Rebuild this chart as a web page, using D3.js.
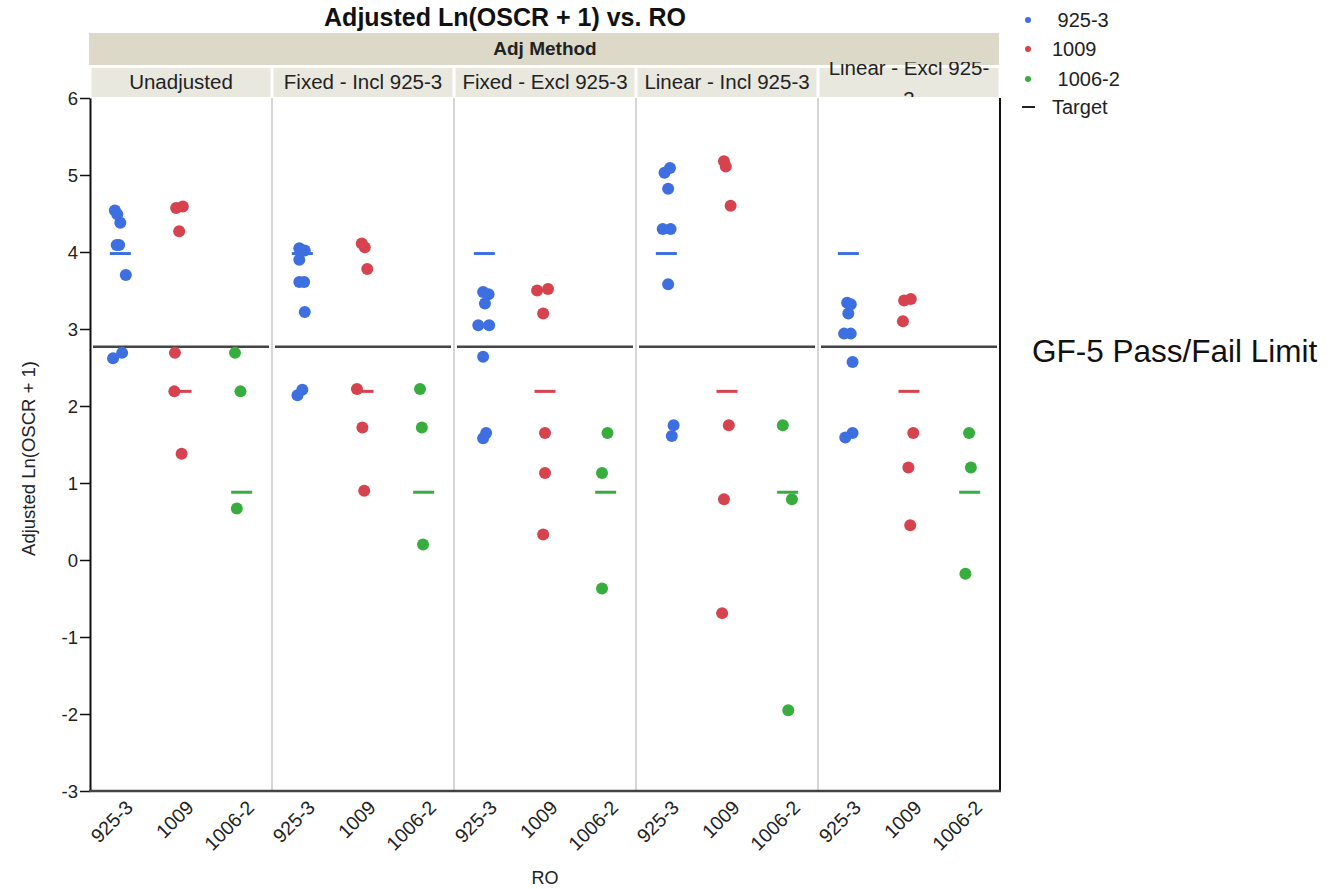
<!DOCTYPE html>
<html>
<head>
<meta charset="utf-8">
<script src="https://cdn.jsdelivr.net/npm/d3@7"></script>
<style>
  body { margin: 0; background: #fff; }
  text { font-family: "Liberation Sans", Arial, Helvetica, sans-serif; fill: #222; }
</style>
</head>
<body>
<svg id="chart" width="1338" height="889"></svg>
<script>
// Adjustment methods (facet columns) and RO categories
const methods = ["Unadjusted", "Fixed - Incl 925-3", "Fixed - Excl 925-3", "Linear - Incl 925-3", "Linear - Excl 925-3"];
const ros = ["925-3", "1009", "1006-2"];
const roColors = ["#3d6fe0", "#d6434f", "#37ad3e"];

// Target value per RO and the GF-5 pass/fail limit
const targets = [3.98, 2.19, 0.88];
const passFailLimit = 2.77;

// Adjusted Ln(OSCR + 1) per method, one array per RO
const values925_3 = [
  [4.54, 4.49, 4.38, 4.09, 4.09, 3.70, 2.69, 2.62],
  [4.05, 4.02, 3.90, 3.61, 3.61, 3.22, 2.21, 2.14],
  [3.48, 3.45, 3.33, 3.05, 3.05, 2.64, 1.65, 1.58],
  [5.09, 5.03, 4.82, 4.30, 4.30, 3.58, 1.75, 1.61],
  [3.34, 3.32, 3.20, 2.94, 2.94, 2.57, 1.65, 1.59]
];
const values1009 = [
  [4.59, 4.57, 4.27, 2.69, 2.19, 1.38],
  [4.11, 4.06, 3.78, 2.22, 1.72, 0.90],
  [3.50, 3.52, 3.20, 1.65, 1.13, 0.33],
  [5.18, 5.11, 4.60, 1.75, 0.79, -0.69],
  [3.37, 3.39, 3.10, 1.65, 1.20, 0.45]
];
const values1006_2 = [
  [2.69, 2.19, 0.67],
  [2.22, 1.72, 0.20],
  [1.65, 1.13, -0.37],
  [1.75, 0.79, -1.95],
  [1.65, 1.20, -0.18]
];

// Horizontal jitter of each point, as a fraction of its category band
const jitter925_3 = [
  [-0.09, -0.05, 0.00, -0.06, -0.02, 0.09, 0.03, -0.12],
  [-0.05, 0.04, -0.05, -0.05, 0.03, 0.04, 0.00, -0.08],
  [-0.02, 0.07, 0.01, -0.10, 0.08, -0.02, 0.03, -0.02],
  [0.06, -0.03, 0.03, -0.06, 0.07, 0.03, 0.12, 0.09],
  [-0.02, 0.04, 0.00, -0.07, 0.04, 0.07, 0.07, -0.05]
];
const jitter1009 = [
  [0.03, -0.08, -0.03, -0.10, -0.11, 0.01],
  [-0.02, 0.03, 0.07, -0.10, -0.01, 0.02],
  [-0.13, 0.05, -0.03, 0.00, 0.00, -0.03],
  [-0.05, -0.02, 0.06, 0.03, -0.05, -0.08],
  [-0.08, 0.03, -0.10, 0.07, -0.01, 0.02]
];
const jitter1006_2 = [
  [-0.11, -0.02, -0.08],
  [-0.06, -0.03, -0.01],
  [0.03, -0.06, -0.06],
  [-0.08, 0.07, 0.01],
  [-0.01, 0.02, -0.07]
];

const yTickValues = [-3, -2, -1, 0, 1, 2, 3, 4, 5, 6];
const legendLabels = [" 925-3", "1009", " 1006-2", "Target"];

const valuesByRo = [values925_3, values1009, values1006_2];
const jitterByRo = [jitter925_3, jitter1009, jitter1006_2];

// ---- layout ----
const plot = { left: 90, right: 1000, top: 98, bottom: 791 };
const svg = d3.select("#chart");

const fx = d3.scaleBand().domain(methods).range([plot.left, plot.right]);
const xIn = d3.scaleBand().domain(ros).range([0, fx.bandwidth()]);
const y = d3.scaleLinear().domain([-3, 6]).range([plot.bottom, plot.top]);
const bw = fx.bandwidth();

// Title
svg.append("text")
  .attr("x", 505).attr("y", 26)
  .attr("text-anchor", "middle")
  .style("font-size", "25px").style("font-weight", "bold").style("fill", "#111")
  .text("Adjusted Ln(OSCR + 1) vs. RO");

// Group header bar
svg.append("rect")
  .attr("x", plot.left - 1).attr("y", 33)
  .attr("width", plot.right - plot.left).attr("height", 32)
  .attr("fill", "#dcd9c9");
svg.append("text")
  .attr("x", (plot.left + plot.right) / 2).attr("y", 55)
  .attr("text-anchor", "middle")
  .style("font-size", "19px").style("font-weight", "bold")
  .text("Adj Method");

// Facet strips
const defs = svg.append("defs");
defs.append("clipPath").attr("id", "stripClip")
  .append("rect").attr("x", plot.left).attr("y", 62)
  .attr("width", plot.right - plot.left).attr("height", plot.top - 1 - 62);

const strips = svg.append("g");
methods.forEach(m => {
  strips.append("rect")
    .attr("x", fx(m) + 1.5).attr("y", 68)
    .attr("width", bw - 3).attr("height", 29)
    .attr("fill", "#e9e8df");
});
const stripText = svg.append("g").attr("clip-path", "url(#stripClip)");
methods.forEach(m => {
  const cx = fx(m) + bw / 2;
  const t = stripText.append("text")
    .attr("x", cx).attr("y", 89)
    .attr("text-anchor", "middle")
    .style("font-size", "20.5px")
    .text(m);
  const maxW = bw - 12;
  if (t.node().getComputedTextLength() > maxW) {
    // wrap after the last break character that keeps the first line within the strip
    let cut = m.length - 1;
    while (cut > 0) {
      const head = m.slice(0, cut);
      if ("- ".includes(m[cut - 1])) {
        t.text(head);
        if (t.node().getComputedTextLength() <= maxW) break;
      }
      cut--;
    }
    const line1 = m.slice(0, cut).trimEnd();
    const line2 = m.slice(cut).trimStart();
    t.text(null).attr("y", null);
    t.append("tspan").attr("x", cx).attr("y", 75).text(line1);
    t.append("tspan").attr("x", cx).attr("y", 106).text(line2);
  }
});

// Panel separators
methods.slice(1).forEach(m => {
  svg.append("line")
    .attr("x1", fx(m)).attr("x2", fx(m))
    .attr("y1", plot.top).attr("y2", plot.bottom)
    .attr("stroke", "#d6d6d6").attr("stroke-width", 2);
});

// Pass/fail limit, drawn inside each panel
methods.forEach(m => {
  svg.append("line")
    .attr("x1", fx(m) + 3).attr("x2", fx(m) + bw - 3)
    .attr("y1", y(passFailLimit)).attr("y2", y(passFailLimit))
    .attr("stroke", "#454545").attr("stroke-width", 2.5);
});

// Targets and points
const marks = svg.append("g");
methods.forEach((m, mi) => {
  ros.forEach((r, ri) => {
    const cx = fx(m) + xIn(r) + xIn.bandwidth() / 2;
    marks.append("line")
      .attr("x1", cx - 10.5).attr("x2", cx + 10.5)
      .attr("y1", y(targets[ri])).attr("y2", y(targets[ri]))
      .attr("stroke", roColors[ri]).attr("stroke-width", 3);
  });
});
methods.forEach((m, mi) => {
  ros.forEach((r, ri) => {
    const base = fx(m) + xIn(r) + xIn.bandwidth() / 2;
    const vals = valuesByRo[ri][mi];
    const jit = jitterByRo[ri][mi];
    marks.selectAll(null)
      .data(vals.map((v, i) => ({ v, j: jit[i] })))
      .enter().append("circle")
      .attr("cx", d => base + d.j * xIn.bandwidth())
      .attr("cy", d => y(d.v))
      .attr("r", 6)
      .attr("fill", roColors[ri]);
  });
});

// Y axis
const yAxis = svg.append("g")
  .attr("transform", `translate(${plot.left},0)`)
  .call(d3.axisLeft(y).tickValues(yTickValues).tickSize(10).tickSizeOuter(0).tickFormat(d => String(d)));
yAxis.select(".domain").attr("stroke", "#111").attr("stroke-width", 2);
yAxis.selectAll(".tick line").attr("stroke", "#111").attr("stroke-width", 1.5);
yAxis.selectAll(".tick text").attr("x", -12).attr("dy", "0.36em")
  .style("font-size", "18.5px").style("font-family", '"Liberation Sans", Arial, sans-serif').style("fill", "#222");

// Right border
svg.append("line")
  .attr("x1", plot.right).attr("x2", plot.right)
  .attr("y1", plot.top).attr("y2", plot.bottom)
  .attr("stroke", "#111").attr("stroke-width", 2);

// X axes (one per panel)
methods.forEach(m => {
  const gx = svg.append("g")
    .attr("transform", `translate(${fx(m)},${plot.bottom})`)
    .call(d3.axisBottom(xIn).tickSize(0));
  gx.select(".domain").remove();
  gx.selectAll(".tick text")
    .style("font-size", "19.5px").style("font-family", '"Liberation Sans", Arial, sans-serif').style("fill", "#222")
    .attr("text-anchor", "end")
    .attr("transform", "translate(9,13) rotate(-45)")
    .attr("x", 0).attr("y", 0).attr("dy", "0.35em");
});
svg.append("line")
  .attr("x1", plot.left - 1).attr("x2", plot.right + 1)
  .attr("y1", plot.bottom).attr("y2", plot.bottom)
  .attr("stroke", "#444").attr("stroke-width", 2.5);

// Axis titles
svg.append("text")
  .attr("x", (plot.left + plot.right) / 2).attr("y", 884)
  .attr("text-anchor", "middle")
  .style("font-size", "18px")
  .text("RO");
svg.append("text")
  .attr("transform", `translate(35,${(plot.top + plot.bottom) / 2 + 14}) rotate(-90)`)
  .attr("text-anchor", "middle")
  .style("font-size", "18.5px")
  .text("Adjusted Ln(OSCR + 1)");

// Pass/fail annotation
svg.append("text")
  .attr("x", 1032).attr("y", 362)
  .style("font-size", "31.5px").style("fill", "#111")
  .text("GF-5 Pass/Fail Limit");

// Legend
const legend = svg.append("g").attr("transform", "translate(1028,0)");
const legendY = [20, 49, 79, 107];
ros.forEach((r, i) => {
  legend.append("circle").attr("cx", 0).attr("cy", legendY[i]).attr("r", 3).attr("fill", roColors[i]);
});
legend.append("line")
  .attr("x1", -6).attr("x2", 7)
  .attr("y1", legendY[3]).attr("y2", legendY[3])
  .attr("stroke", "#222").attr("stroke-width", 2);
legendLabels.forEach((lab, i) => {
  legend.append("text")
    .attr("x", 24).attr("y", legendY[i] + 7)
    .style("font-size", "20px").style("white-space", "pre")
    .attr("xml:space", "preserve")
    .text(lab);
});
</script>
</body>
</html>
